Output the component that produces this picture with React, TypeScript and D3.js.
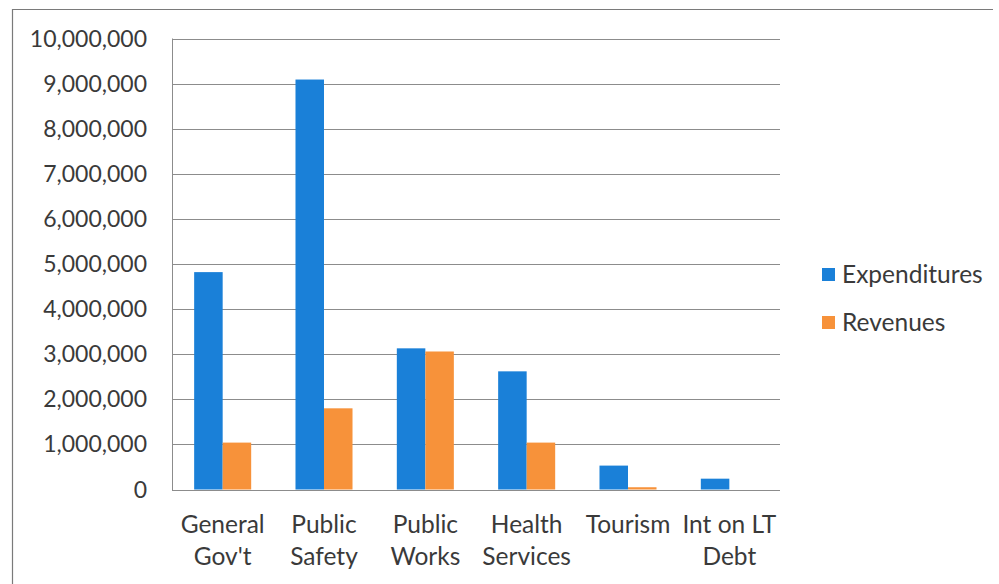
import React from "react";
import * as d3 from "d3";

const categories: string[][] = [
  ["General", "Gov't"],
  ["Public", "Safety"],
  ["Public", "Works"],
  ["Health", "Services"],
  ["Tourism"],
  ["Int on LT", "Debt"],
];
const seriesNames = ["Expenditures", "Revenues"];
const expenditures = [4820000, 9090000, 3130000, 2620000, 530000, 240000];
const revenues = [1040000, 1800000, 3060000, 1040000, 50000, 0];
const yTicks = [0, 1000000, 2000000, 3000000, 4000000, 5000000, 6000000, 7000000, 8000000, 9000000, 10000000];

const W = 999;
const H = 584;
const colors = ["#1a80d8", "#f7923a"];
const FONT = "Lato, 'Open Sans', sans-serif";
const TEXT = "#3a3a3a";

export default function App() {
  const plot = { left: 172, right: 780, top: 38.5, bottom: 489.5 };
  const keys = categories.map((c) => c.join(" "));
  const x0 = d3.scaleBand<string>().domain(keys).range([plot.left, plot.right]).padding(0);
  const x1 = d3
    .scaleBand<string>()
    .domain(seriesNames)
    .range([0, x0.bandwidth()])
    .paddingInner(0)
    .paddingOuter(0.777);
  const y = d3.scaleLinear().domain([0, 10000000]).range([plot.bottom, plot.top]);
  const fmt = d3.format(",");
  const values = [expenditures, revenues];

  return (
    <svg
      width={W}
      height={H}
      style={{ position: "absolute", left: 0, top: 0, display: "block", background: "#fff" }}
      fontFamily={FONT}
    >
      {/* outer frame */}
      <line x1={12.5} x2={12.5} y1={9} y2={H} stroke="#7a7a7a" strokeWidth={1.2} />
      <line x1={12} x2={993} y1={9.5} y2={9.5} stroke="#7a7a7a" strokeWidth={1.2} />

      {/* gridlines */}
      {yTicks.map((t) => (
        <line
          key={t}
          x1={plot.left}
          x2={plot.right}
          y1={Math.round(y(t)) + 0.5}
          y2={Math.round(y(t)) + 0.5}
          stroke="#8c8c8c"
          strokeWidth={1}
        />
      ))}
      <line x1={plot.left + 0.5} x2={plot.left + 0.5} y1={plot.top} y2={plot.bottom + 0.5} stroke="#8c8c8c" />

      {/* y labels */}
      {yTicks.map((t) => (
        <text
          key={"l" + t}
          x={147}
          y={y(t) + 8}
          textAnchor="end"
          fontSize={23}
          fill={TEXT}
        >
          {fmt(t)}
        </text>
      ))}

      {/* bars */}
      {seriesNames.map((s, si) =>
        keys.map((k, i) => {
          const v = values[si][i];
          const top = y(v);
          return (
            <rect
              key={s + k}
              x={(x0(k) ?? 0) + (x1(s) ?? 0)}
              y={top}
              width={x1.bandwidth()}
              height={Math.max(0, y(0) - top)}
              fill={colors[si]}
            />
          );
        })
      )}

      {/* category labels */}
      {categories.map((lines, i) => {
        const cx = (x0(keys[i]) ?? 0) + x0.bandwidth() / 2;
        return (
          <text key={"c" + i} textAnchor="middle" fontSize={24.5} fill={TEXT}>
            {lines.map((ln, j) => (
              <tspan key={j} x={cx} y={533 + j * 31.5}>
                {ln}
              </tspan>
            ))}
          </text>
        );
      })}

      {/* legend */}
      {seriesNames.map((s, i) => (
        <g key={"lg" + s} transform={`translate(822, ${268 + i * 48})`}>
          <rect x={0} y={0} width={13} height={13} fill={colors[i]} />
          <text x={20} y={14.5} fontSize={24.5} fill={TEXT}>
            {s}
          </text>
        </g>
      ))}
    </svg>
  );
}
